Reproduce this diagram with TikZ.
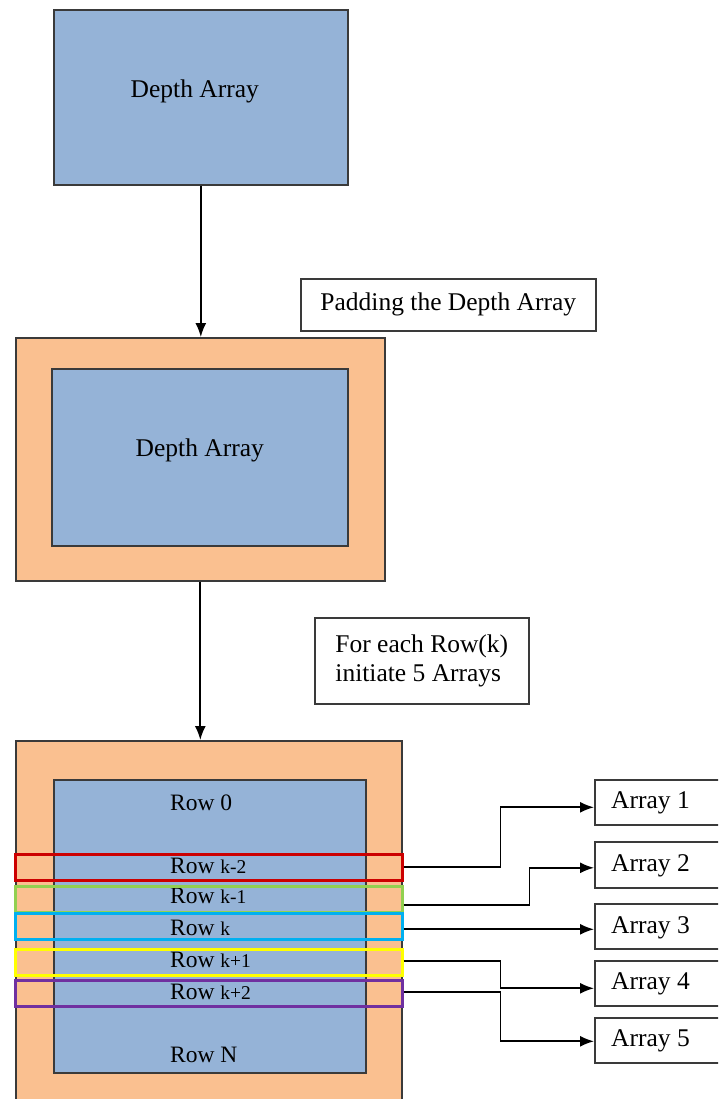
\documentclass[tikz,border=0pt]{standalone}
\usepackage{fontspec}
\setmainfont{Liberation Serif}
\usetikzlibrary{arrows.meta}
\definecolor{depthblue}{HTML}{95B3D7}
\definecolor{padorange}{HTML}{FAC090}
\definecolor{edge}{HTML}{3A3A3A}
\definecolor{rowred}{HTML}{CC0000}
\definecolor{rowgreen}{HTML}{92D050}
\definecolor{rowcyan}{HTML}{00B0F0}
\definecolor{rowyellow}{HTML}{FFFF00}
\definecolor{rowpurple}{HTML}{7030A0}
\newcommand\rowidx[1]{{\fontsize{19.5}{24}\selectfont #1}}
\tikzset{
  every node/.style={font=\fontsize{25.5}{29}\selectfont, inner sep=0pt},
  blk/.style={draw=edge, line width=1.6pt, anchor=north west},
  depth/.style={blk, fill=depthblue},
  pad/.style={blk, fill=padorange},
  note/.style={blk, fill=white},
  rowbox/.style={draw=#1, line width=2.6pt, anchor=north west, minimum width=387pt, minimum height=26pt},
  rowtxt/.style={anchor=base west, font=\fontsize{23.5}{28}\selectfont},
  arr/.style={draw=black, line width=1.7pt, -{Latex[length=14pt,width=11pt]}}
}
\begin{document}
\begin{tikzpicture}[x=1pt, y=-1pt]
\useasboundingbox (0,0) rectangle (718,1099);
\clip (0,0) rectangle (718,1099);

% original depth array
\node[depth, minimum width=294pt, minimum height=175pt] (d1) at (53,9) {};
\node (d1t) at ([xshift=-6pt,yshift=6pt]d1.center) {Depth Array};

% padded depth array
\node[pad, minimum width=369pt, minimum height=243pt] (p2) at (15,337) {};
\node[depth, minimum width=296pt, minimum height=177pt] (d2) at (51,368) {};
\node (d2t) at ([yshift=7pt]d2.center) {Depth Array};
\node[note, minimum width=295pt, minimum height=52pt] (n1) at (300,278) {Padding the Depth Array};

\draw[arr] (d1.south) -- (d1.south |- p2.north);

% padded array split into rows
\node[pad, minimum width=386pt, minimum height=380pt] (p3) at (15,740) {};
\node[depth, minimum width=312pt, minimum height=293pt] (d3) at (53,779) {};
\node[note, minimum width=214pt, minimum height=86pt, align=left] (n2) at (314,617) {For each Row(k)\\initiate 5 Arrays};

\draw[arr] (p2.south) -- (p2.south |- p3.north);

% row labels
\node[rowtxt] (r0) at (170,810) {Row 0};
\node[rowtxt] (rn) at (170,1062) {Row N};
\node[rowtxt] (t1) at (170,873) {Row \rowidx{k-2}};
\node[rowtxt] (t2) at (170,903) {Row \rowidx{k-1}};
\node[rowtxt] (t3) at (170,935) {Row \rowidx{k}};
\node[rowtxt] (t4) at (170,967) {Row \rowidx{k+1}};
\node[rowtxt] (t5) at (170,999) {Row \rowidx{k+2}};

% highlighted rows
\node[rowbox=rowred]    (rk2) at (14,853) {};
\node[rowbox=rowgreen]  (rk1) at (14,885) {};
\node[rowbox=rowcyan]   (rk0) at (14,912) {};
\node[rowbox=rowyellow] (rp1) at (14,948) {};
\node[rowbox=rowpurple] (rp2) at (14,979) {};

% output arrays
\node[note, minimum width=150pt, minimum height=45pt] (a1) at (594,779) {};
\node[note, minimum width=150pt, minimum height=46pt] (a2) at (594,841) {};
\node[note, minimum width=150pt, minimum height=45pt] (a3) at (594,903) {};
\node[note, minimum width=150pt, minimum height=45pt] (a4) at (594,960) {};
\node[note, minimum width=150pt, minimum height=45pt] (a5) at (594,1017) {};
\node[anchor=west] (a1t) at ([xshift=17pt,yshift=-1pt]a1.west) {Array 1};
\node[anchor=west] (a2t) at ([xshift=17pt,yshift=-1pt]a2.west) {Array 2};
\node[anchor=west] (a3t) at ([xshift=17pt,yshift=-1pt]a3.west) {Array 3};
\node[anchor=west] (a4t) at ([xshift=17pt,yshift=-1pt]a4.west) {Array 4};
\node[anchor=west] (a5t) at ([xshift=17pt,yshift=-1pt]a5.west) {Array 5};

% row-to-array connectors
\draw[arr] (rk2.east) -- ++(97,0) |- ([yshift=-5pt]a1.west);
\draw[arr] ([yshift=-6pt]rk1.east) -- ++(126,0) |- ([yshift=-3pt]a2.west);
\draw[arr] ([yshift=-3pt]rk0.east) -- ([yshift=-3pt]rk0.east -| a3.west);
\draw[arr] ([yshift=1pt]rp1.east) -- ++(97,0) |- ([yshift=-5pt]a4.west);
\draw[arr] ([yshift=1pt]rp2.east) -- ++(97,0) |- ([yshift=-1pt]a5.west);
\end{tikzpicture}
\end{document}
